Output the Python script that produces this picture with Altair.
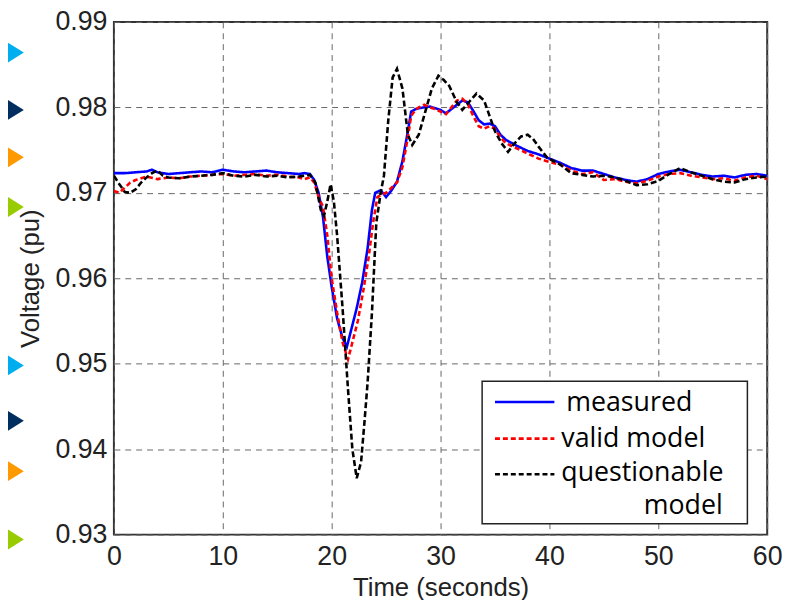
import altair as alt
import pandas as pd

# ---- data ----
T_MEAS = [0, 1, 2, 3, 3.5, 4, 5, 6, 7, 8, 9, 10, 11, 12, 13, 14, 15, 16, 17, 17.5, 18,
          18.4, 18.8, 19.2, 19.6, 20.0, 20.5, 21.0, 21.4, 21.8, 22.3, 22.8, 23.3, 23.7,
          24.0, 24.5, 25.0, 25.5, 26.0, 26.5, 27.0, 27.3, 27.7, 28.0, 28.5, 29.0, 29.5,
          30.0, 30.5, 31.0, 31.5, 32.0, 32.5, 33.0, 33.5, 34.0, 34.5, 35.0, 35.5, 36.0,
          37.0, 38.0, 39.0, 40.0, 41.0, 42.0, 43.0, 44.0, 45.0, 46.0, 47.0, 48.0, 49.0,
          50.0, 51.0, 52.0, 53.0, 54.0, 55.0, 56.0, 57.0, 58.0, 59.0, 60.0]
V_MEAS = [0.9723, 0.9723, 0.9724, 0.9725, 0.9727, 0.9724, 0.9722, 0.9723, 0.9724, 0.9725,
          0.9724, 0.9727, 0.9725, 0.9724, 0.9725, 0.9726, 0.9724, 0.9723, 0.9722, 0.9723,
          0.9722, 0.9715, 0.9700, 0.9672, 0.9625, 0.9590, 0.9553, 0.9530, 0.9520, 0.9540,
          0.9565, 0.9595, 0.9635, 0.9680, 0.9700, 0.9703, 0.9695, 0.9703, 0.9713, 0.9737,
          0.9772, 0.9795, 0.9798, 0.9799, 0.9800, 0.9801, 0.9799, 0.9797, 0.9793, 0.9798,
          0.9803, 0.9808, 0.9806, 0.9796, 0.9785, 0.9780, 0.9781, 0.9778, 0.9768, 0.9762,
          0.9755, 0.9749, 0.9745, 0.9740, 0.9735, 0.9729, 0.9726, 0.9726, 0.9722, 0.9718,
          0.9715, 0.9713, 0.9716, 0.9722, 0.9725, 0.9727, 0.9724, 0.9721, 0.9719, 0.9720,
          0.9718, 0.9721, 0.9722, 0.9720]

T_VALID = [0, 0.5, 1, 1.5, 2, 3, 4, 5, 6, 7, 8, 9, 10, 11, 12, 13, 14, 15, 16, 17, 17.5, 18,
           18.4, 18.8, 19.2, 19.6, 20.0, 20.5, 21.0, 21.5, 21.9, 22.4, 22.9, 23.4, 23.8,
           24.2, 24.6, 25.0, 25.5, 26.0, 26.5, 27.0, 27.3, 27.7, 28.0, 28.5, 29.0, 29.5,
           30.0, 30.5, 31.0, 31.5, 32.0, 32.5, 33.0, 33.5, 34.0, 34.5, 35.0, 35.5, 36.0,
           37.0, 38.0, 39.0, 40.0, 41.0, 42.0, 43.0, 44.0, 45.0, 46.0, 47.0, 48.0, 49.0,
           50.0, 51.0, 52.0, 53.0, 54.0, 55.0, 56.0, 57.0, 58.0, 59.0, 60.0]
V_VALID = [0.9702, 0.9700, 0.9706, 0.9712, 0.9715, 0.9719, 0.9716, 0.9718, 0.9717, 0.9719,
           0.9720, 0.9721, 0.9722, 0.9720, 0.9721, 0.9722, 0.9720, 0.9721, 0.9719, 0.9718,
           0.9716, 0.9718, 0.9712, 0.9695, 0.9684, 0.9650, 0.9600, 0.9560, 0.9525, 0.9505,
           0.9525, 0.9550, 0.9585, 0.9625, 0.9665, 0.9695, 0.9698, 0.9700, 0.9706, 0.9712,
           0.9730, 0.9765, 0.9790, 0.9797, 0.9800, 0.9803, 0.9800, 0.9798, 0.9795, 0.9792,
           0.9800, 0.9808, 0.9810, 0.9804, 0.9790, 0.9778, 0.9775, 0.9778, 0.9775, 0.9765,
           0.9758, 0.9752, 0.9746, 0.9740, 0.9736, 0.9733, 0.9726, 0.9722, 0.9724, 0.9715,
           0.9716, 0.9713, 0.9711, 0.9714, 0.9719, 0.9722, 0.9723, 0.9720, 0.9718, 0.9716,
           0.9717, 0.9714, 0.9718, 0.9720, 0.9716]

T_QUEST = [0, 0.5, 1.0, 1.5, 2.0, 2.5, 3.0, 3.5, 4.0, 4.5, 5, 6, 7, 8, 9, 10, 11, 12, 13, 14,
           15, 16, 17, 18, 18.5, 19.0, 19.3, 19.6, 19.9, 20.2, 20.5, 21.0, 21.5, 21.9, 22.3,
           22.7, 23.0, 23.3, 23.7, 24.1, 24.5, 24.8, 25.2, 25.6, 26.0, 26.5, 27.0, 27.4,
           28.0, 28.6, 29.2, 29.8, 30.3, 30.8, 31.5, 32.0, 32.6, 33.3, 34.0, 34.5, 35.0,
           35.6, 36.2, 36.8, 37.4, 38.0, 38.5, 39.0, 39.8, 41.0, 42.0, 43.0, 44.0, 45.0,
           46.0, 47.0, 48.0, 49.0, 50.0, 51.0, 52.0, 53.0, 54.0, 55.0, 56.0, 57.0, 58.0,
           59.0, 60.0]
V_QUEST = [0.9720, 0.9710, 0.9701, 0.9700, 0.9704, 0.9712, 0.9718, 0.9723, 0.9726, 0.9720,
           0.9718, 0.9717, 0.9719, 0.9720, 0.9721, 0.9723, 0.9720, 0.9719, 0.9721, 0.9719,
           0.9720, 0.9718, 0.9719, 0.9721, 0.9712, 0.9680, 0.9673, 0.9690, 0.9710, 0.9690,
           0.9650, 0.9565, 0.9470, 0.9400, 0.9366, 0.9385, 0.9430, 0.9478, 0.9560, 0.9665,
           0.9700, 0.9720, 0.9785, 0.9835, 0.9845, 0.9822, 0.9768, 0.9756, 0.9768, 0.9795,
           0.9822, 0.9837, 0.9832, 0.9825, 0.9806, 0.9797, 0.9806, 0.9816, 0.9808, 0.9790,
           0.9772, 0.9758, 0.9748, 0.9758, 0.9766, 0.9768, 0.9763, 0.9754, 0.9741, 0.9733,
           0.9723, 0.9721, 0.9719, 0.9720, 0.9718, 0.9714, 0.9709, 0.9710, 0.9714, 0.9722,
           0.9729, 0.9724, 0.9720, 0.9716, 0.9713, 0.9712, 0.9716, 0.9718, 0.9719]

SERIES = ["measured", "valid model", "questionable"]
COLORS = ["#0000FF", "#FF0000", "#000000"]
X_TICKS = [0, 10, 20, 30, 40, 50, 60]
Y_TICKS = [0.93, 0.94, 0.95, 0.96, 0.97, 0.98, 0.99]

# decorative slide bullets on the left (y in data units of the voltage axis)
BULLET_Y = [0.98641, 0.97970, 0.97415, 0.96834, 0.94980, 0.94332, 0.93742, 0.92943]
BULLET_COLORS = ["#00AEEF", "#002F5F", "#FF9900", "#99CC00",
                 "#00AEEF", "#002F5F", "#FF9900", "#99CC00"]

W, H = 660, 518
AXIS_FONT = "Liberation Sans"
LEG_FONT = "Open Sans"

x_scale = alt.Scale(domain=[0, 60], nice=False, zero=False)
y_scale = alt.Scale(domain=[0.93, 0.99], nice=False, zero=False)

x_axis = alt.Axis(values=X_TICKS, title="Time (seconds)", grid=True, gridDash=[6, 5],
                  gridColor="#666666", gridWidth=1, domain=False, ticks=False,
                  labelFont=AXIS_FONT, labelFontSize=27, labelColor="#222222",
                  labelPadding=9, labelFlush=False,
                  titleFont=AXIS_FONT, titleFontSize=26, titleFontWeight="normal",
                  titleColor="#222222", titleX=W / 2, titleY=53, titleBaseline="middle")
y_axis = alt.Axis(values=Y_TICKS, format=".2f", title="Voltage (pu)", grid=True,
                  gridDash=[6, 5], gridColor="#666666", gridWidth=1, domain=False,
                  ticks=False, labelFont=AXIS_FONT, labelFontSize=27,
                  labelColor="#222222", labelPadding=7, labelFlush=False,
                  titleFont=AXIS_FONT, titleFontSize=26, titleFontWeight="normal",
                  titleColor="#222222", titleAngle=-90, titleX=-84, titleY=H / 2,
                  titleBaseline="middle", titleAlign="center")


def line_layer(ts, vs, color, dash):
    df = pd.DataFrame({"t": ts, "v": vs})
    return alt.Chart(df).mark_line(color=color, strokeWidth=2.6, strokeDash=dash,
                                   clip=True).encode(
        x=alt.X("t:Q", scale=x_scale, axis=x_axis),
        y=alt.Y("v:Q", scale=y_scale, axis=y_axis),
    )


meas = line_layer(T_MEAS, V_MEAS, COLORS[0], [1, 0])
valid = line_layer(T_VALID, V_VALID, COLORS[1], [5, 3])
quest = line_layer(T_QUEST, V_QUEST, COLORS[2], [6, 3])

# legend (drawn manually to reproduce the boxed MATLAB-style legend)
one = pd.DataFrame({"k": [0]})
leg_box = alt.Chart(one).mark_rect(fill="white", stroke="#222222", strokeWidth=1.5).encode(
    x=alt.value(372), x2=alt.value(640), y=alt.value(363), y2=alt.value(507))

leg_lines = []
for i, (yy, dash) in enumerate(zip([384, 421, 457], [[1, 0], [5, 3], [5, 3]])):
    leg_lines.append(alt.Chart(one).mark_rule(color=COLORS[i], strokeWidth=2.6,
                                              strokeDash=dash).encode(
        x=alt.value(385), x2=alt.value(445), y=alt.value(yy)))

leg_texts = []
for txt, xx, yy, al in [(SERIES[0], 457, 393, "left"), (SERIES[1], 452, 429, "left"),
                        (SERIES[2], 452, 464, "left"), ("model", 615, 497, "right")]:
    leg_texts.append(alt.Chart(one).mark_text(text=txt, font=LEG_FONT, fontSize=27,
                                              color="#000000", align=al,
                                              baseline="alphabetic").encode(
        x=alt.value(xx), y=alt.value(yy)))

bullets_df = pd.DataFrame({"y": BULLET_Y, "c": BULLET_COLORS})
bullets = alt.Chart(bullets_df).mark_point(
    shape="M0,-1L1.6,0L0,1Z", filled=True, size=400, opacity=1, clip=False,
    strokeWidth=0
).encode(
    x=alt.value(-107),
    y=alt.Y("y:Q", scale=y_scale, axis=y_axis),
    color=alt.Color("c:N", scale=None),
)

chart = alt.layer(meas, valid, quest, leg_box, *leg_lines, *leg_texts, bullets).properties(
    width=W, height=H,
    autosize=alt.AutoSizeParams(type="none"),
    padding={"left": 107, "top": 11, "right": 19, "bottom": 63},
).configure(
    background="white",
    view=alt.ViewConfig(stroke="#333333", strokeWidth=2),
)

chart.save("out.html", embed_options={"renderer": "svg", "actions": False})
